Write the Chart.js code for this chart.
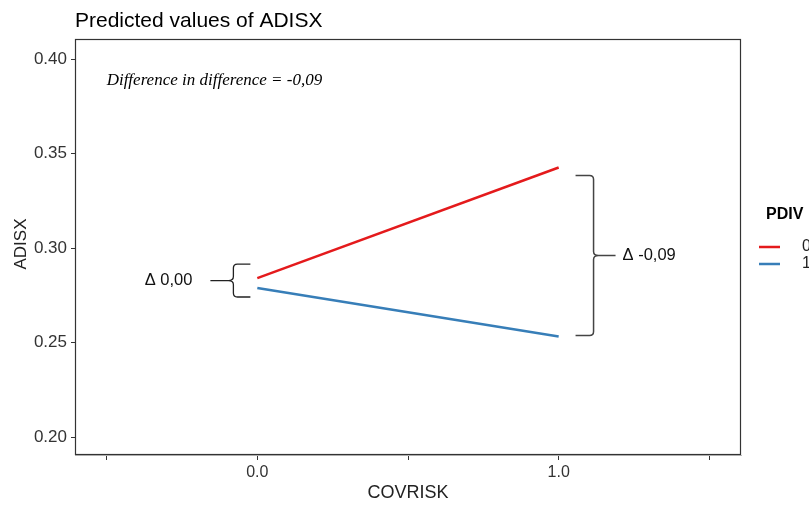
<!DOCTYPE html>
<html>
<head>
<meta charset="utf-8">
<script src="https://cdn.jsdelivr.net/npm/chart.js@4/dist/chart.umd.min.js"></script>
<style>
html,body{margin:0;padding:0;background:#fff;}
#wrap{width:809px;height:508px;position:relative;}
</style>
</head>
<body>
<div id="wrap"><canvas id="c" width="809" height="508"></canvas></div>
<script>
// ---- data ----
const covrisk = [0, 1];
const pdiv0 = [0.2841, 0.3426];
const pdiv1 = [0.2788, 0.2532];
const seriesNames = ['0', '1'];
const yTicks = [0.20, 0.25, 0.30, 0.35, 0.40];
const xTicks = [-0.5, 0, 0.5, 1, 1.5];
const xTickLabels = ['', '0.0', '', '1.0', ''];
const titleText = 'Predicted values of ADISX';
const yTitle = 'ADISX';
const xTitle = 'COVRISK';
const legendTitle = 'PDIV';
const didText = 'Difference in difference = -0,09';
const deltaLeft = 'Δ 0,00';
const deltaRight = 'Δ -0,09';
// brace spans (data units)
const braceLeftSpan = [0.2741, 0.2915];
const braceRightSpan = [0.2537, 0.3384];

const RED = '#e41a1c', BLUE = '#377eb8';
const SANS = '"Liberation Sans", Arial, sans-serif';

const overlay = {
  id: 'overlay',
  afterDatasetsDraw(chart) {
    const ctx = chart.ctx, a = chart.chartArea;
    const xs = chart.scales.x, ys = chart.scales.y;
    ctx.save();
    // panel border
    ctx.strokeStyle = '#333';
    ctx.lineWidth = 1.2;
    ctx.strokeRect(a.left + 0.5, a.top + 0.5, a.right - a.left - 1, a.bottom - a.top - 1);

    // annotation text
    ctx.fillStyle = '#000';
    ctx.font = 'italic 17px "Liberation Serif", serif';
    ctx.textAlign = 'left'; ctx.textBaseline = 'middle';
    ctx.fillText(didText, xs.getPixelForValue(-0.5), ys.getPixelForValue(0.3885));

    // left brace (opening to the right)
    ctx.strokeStyle = '#222';
    ctx.lineWidth = 1.3;
    const lt = ys.getPixelForValue(braceLeftSpan[1]);
    const lb = ys.getPixelForValue(braceLeftSpan[0]);
    const lm = (lt + lb) / 2;
    const lxEnd = xs.getPixelForValue(-0.023);
    const lxV = lxEnd - 17;
    const lxTip = lxEnd - 40;
    ctx.beginPath();
    ctx.moveTo(lxEnd, lt);
    ctx.lineTo(lxV + 4, lt);
    ctx.quadraticCurveTo(lxV, lt, lxV, lt + 4);
    ctx.lineTo(lxV, lm - 4);
    ctx.quadraticCurveTo(lxV, lm, lxV - 5, lm);
    ctx.quadraticCurveTo(lxV, lm, lxV, lm + 4);
    ctx.lineTo(lxV, lb - 4);
    ctx.quadraticCurveTo(lxV, lb, lxV + 4, lb);
    ctx.lineTo(lxEnd, lb);
    ctx.moveTo(lxV - 5, lm);
    ctx.lineTo(lxTip, lm);
    ctx.stroke();

    // right brace (opening to the left)
    ctx.strokeStyle = '#444';
    ctx.lineWidth = 1.5;
    const rt = ys.getPixelForValue(braceRightSpan[1]);
    const rb = ys.getPixelForValue(braceRightSpan[0]);
    const rm = (rt + rb) / 2;
    const rxStart = xs.getPixelForValue(1.056);
    const rxV = rxStart + 18;
    const rxTip = rxStart + 40;
    ctx.beginPath();
    ctx.moveTo(rxStart, rt);
    ctx.lineTo(rxV - 4, rt);
    ctx.quadraticCurveTo(rxV, rt, rxV, rt + 4);
    ctx.lineTo(rxV, rm - 4);
    ctx.quadraticCurveTo(rxV, rm, rxV + 5, rm);
    ctx.quadraticCurveTo(rxV, rm, rxV, rm + 4);
    ctx.lineTo(rxV, rb - 4);
    ctx.quadraticCurveTo(rxV, rb, rxV - 4, rb);
    ctx.lineTo(rxStart, rb);
    ctx.moveTo(rxV + 5, rm);
    ctx.lineTo(rxTip, rm);
    ctx.stroke();

    // delta labels
    ctx.fillStyle = '#111';
    ctx.font = '16.5px ' + SANS;
    ctx.textAlign = 'right';
    ctx.fillText(deltaLeft, lxTip - 18, lm);
    ctx.textAlign = 'left';
    ctx.fillText(deltaRight, rxTip + 7, rm);

    // title
    ctx.fillStyle = '#000';
    ctx.font = '21px ' + SANS;
    ctx.textAlign = 'left'; ctx.textBaseline = 'alphabetic';
    ctx.fillText(titleText, a.left, 27);

    // axis titles
    ctx.fillStyle = '#222';
    ctx.font = '18px ' + SANS;
    ctx.textAlign = 'center'; ctx.textBaseline = 'middle';
    ctx.fillText(xTitle, (a.left + a.right) / 2, 493);
    ctx.save();
    ctx.translate(21, (a.top + a.bottom) / 2 - 3);
    ctx.rotate(-Math.PI / 2);
    ctx.font = '17px ' + SANS;
    ctx.fillText(yTitle, 0, 0);
    ctx.restore();

    // legend
    ctx.fillStyle = '#000';
    ctx.font = 'bold 16px ' + SANS;
    ctx.textAlign = 'left'; ctx.textBaseline = 'middle';
    ctx.fillText(legendTitle, 766, 215);
    const cols = [RED, BLUE];
    chart.data.datasets.forEach((ds, i) => {
      const y = 247 + i * 17;
      ctx.strokeStyle = cols[i];
      ctx.lineWidth = 2.5;
      ctx.beginPath(); ctx.moveTo(759, y); ctx.lineTo(780, y); ctx.stroke();
      ctx.fillStyle = '#222';
      ctx.font = '16px ' + SANS;
      ctx.fillText(ds.label, 802, y);
    });
    ctx.restore();
  }
};

new Chart(document.getElementById('c'), {
  type: 'line',
  data: {
    datasets: [
      { label: seriesNames[0], data: covrisk.map((x, i) => ({x, y: pdiv0[i]})), borderColor: RED, borderWidth: 2.5, pointRadius: 0, tension: 0 },
      { label: seriesNames[1], data: covrisk.map((x, i) => ({x, y: pdiv1[i]})), borderColor: BLUE, borderWidth: 2.5, pointRadius: 0, tension: 0 }
    ]
  },
  options: {
    responsive: false,
    animation: false,
    layout: { padding: { top: 39, right: 68, left: 0, bottom: 0 } },
    plugins: { legend: { display: false }, tooltip: { enabled: false }, title: { display: false } },
    scales: {
      x: {
        type: 'linear', min: -0.605, max: 1.605,
        afterBuildTicks: s => { s.ticks = xTicks.map(v => ({value: v})); },
        afterFit: s => { s.height = 53; },
        ticks: {
          autoSkip: false, maxRotation: 0, padding: 3, color: '#333',
          font: { size: 16, family: SANS },
          callback: (v) => { const i = xTicks.indexOf(v); return i >= 0 ? xTickLabels[i] : ''; }
        },
        grid: { drawOnChartArea: false, drawTicks: true, tickLength: 5, color: '#333', lineWidth: 1 },
        border: { display: true, color: '#bbb' }
      },
      y: {
        type: 'linear', min: 0.1905, max: 0.4106,
        afterBuildTicks: s => { s.ticks = yTicks.map(v => ({value: v})); },
        afterFit: s => { s.width = 75; },
        ticks: {
          padding: 4, color: '#333',
          font: { size: 17, family: SANS },
          callback: v => v.toFixed(2)
        },
        grid: { drawOnChartArea: false, drawTicks: true, tickLength: 4, color: '#333', lineWidth: 1 },
        border: { display: false }
      }
    }
  },
  plugins: [overlay]
});
</script>
</body>
</html>
